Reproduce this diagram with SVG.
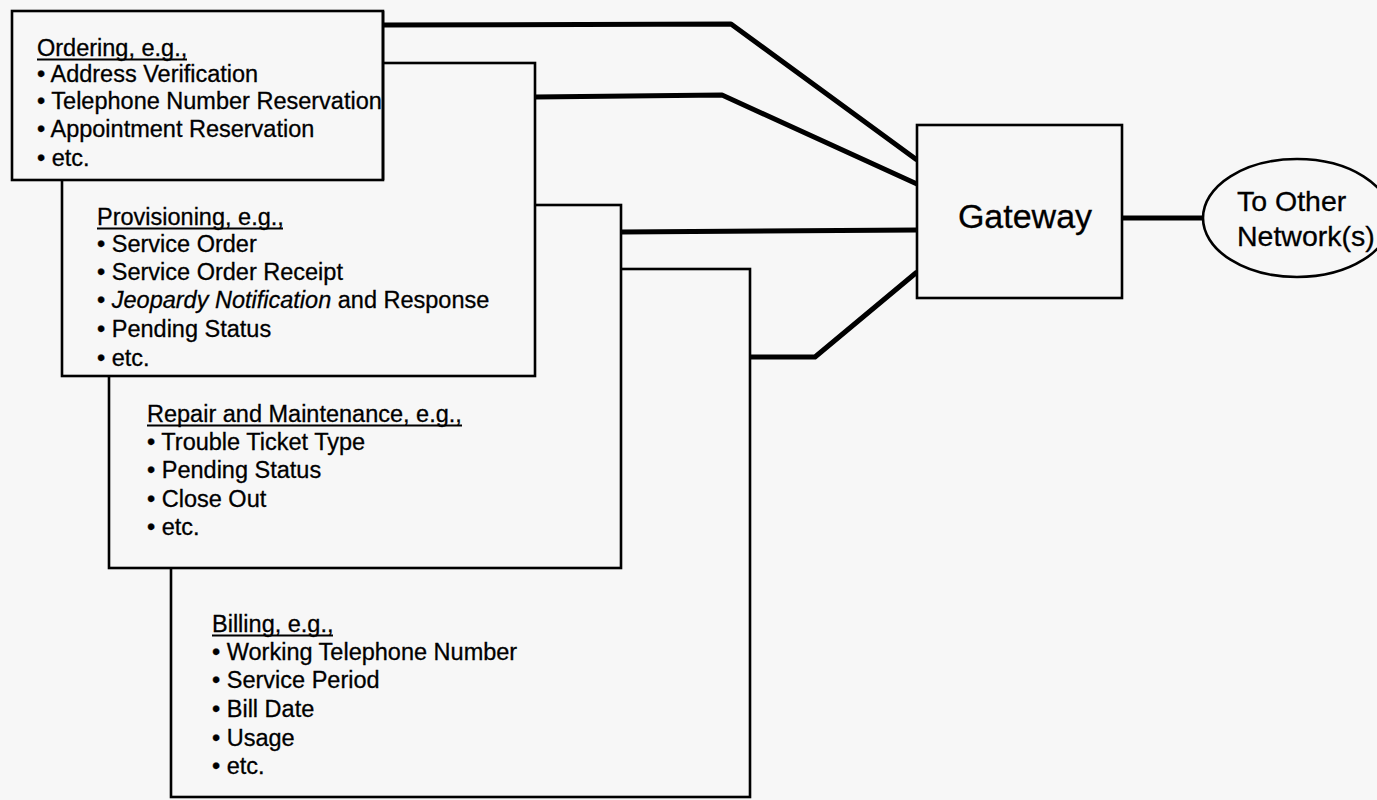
<svg xmlns="http://www.w3.org/2000/svg" width="1377" height="800" viewBox="0 0 1377 800">
  <style>
    .box { fill: #f7f7f7; stroke: #000; stroke-width: 2.6; }
    .wire { fill: none; stroke: #000; stroke-width: 5; stroke-linejoin: round; }
    .ul { stroke: #000; stroke-width: 1.8; }
    text { font-family: "Liberation Sans", Arial, sans-serif; fill: #000; stroke: #000; stroke-width: 0.3; }
    .t { font-size: 23.5px; }
    .big { font-size: 34px; }
    .mid { font-size: 28.5px; }
  </style>
  <rect x="0" y="0" width="1377" height="800" fill="#f7f7f7"/>

  <!-- connectors from the message groups into the gateway, and out to other networks -->
  <g id="connectors">
    <path class="wire" d="M383,25 L731,24 L917,160"/>
    <path class="wire" d="M535,97 L722,95 L917,184"/>
    <path class="wire" d="M621,232 L917,230"/>
    <path class="wire" d="M750,357 L815,357 L917,272"/>
    <path class="wire" d="M1122,218 L1203,218"/>
  </g>

  <!-- stacked message groups, back to front -->
  <g id="billing">
    <rect class="box" x="171" y="269" width="579" height="528"/>
    <text class="t" x="212" y="632">Billing, e.g.,</text>
    <line class="ul" x1="212" y1="635.5" x2="333" y2="635.5"/>
    <text class="t" x="212" y="660">• Working Telephone Number</text>
    <text class="t" x="212" y="688">• Service Period</text>
    <text class="t" x="212" y="717">• Bill Date</text>
    <text class="t" x="212" y="746">• Usage</text>
    <text class="t" x="212" y="774">• etc.</text>
  </g>

  <g id="repair">
    <rect class="box" x="109" y="205" width="512" height="363"/>
    <text class="t" x="147" y="422">Repair and Maintenance, e.g.,</text>
    <line class="ul" x1="147" y1="425.5" x2="462" y2="425.5"/>
    <text class="t" x="147" y="450">• Trouble Ticket Type</text>
    <text class="t" x="147" y="478">• Pending Status</text>
    <text class="t" x="147" y="507">• Close Out</text>
    <text class="t" x="147" y="535">• etc.</text>
  </g>

  <g id="provisioning">
    <rect class="box" x="62" y="63" width="473" height="313"/>
    <text class="t" x="97" y="225">Provisioning, e.g.,</text>
    <line class="ul" x1="97" y1="228.5" x2="283" y2="228.5"/>
    <text class="t" x="97" y="252">• Service Order</text>
    <text class="t" x="97" y="280">• Service Order Receipt</text>
    <text class="t" x="97" y="308">• <tspan font-style="italic">Jeopardy Notification</tspan> and Response</text>
    <text class="t" x="97" y="337">• Pending Status</text>
    <text class="t" x="97" y="366">• etc.</text>
  </g>

  <g id="ordering">
    <rect class="box" x="12" y="11" width="371" height="169"/>
    <text class="t" x="37" y="56">Ordering, e.g.,</text>
    <line class="ul" x1="37" y1="59.5" x2="187" y2="59.5"/>
    <text class="t" x="37" y="82">• Address Verification</text>
    <text class="t" x="37" y="109">• Telephone Number Reservation</text>
    <text class="t" x="37" y="137">• Appointment Reservation</text>
    <text class="t" x="37" y="166">• etc.</text>
    <!-- right border redrawn over the overhanging last letter -->
    <line x1="383" y1="11" x2="383" y2="180" stroke="#000" stroke-width="2.6"/>
  </g>

  <g id="gateway">
    <rect class="box" x="917" y="125" width="205" height="173"/>
    <text class="big" x="1025" y="228" text-anchor="middle">Gateway</text>
  </g>

  <g id="other-networks">
    <ellipse class="box" cx="1297" cy="218" rx="94" ry="59"/>
    <text class="mid" x="1237" y="211">To Other</text>
    <text class="mid" x="1237" y="246">Network(s)</text>
  </g>
</svg>
